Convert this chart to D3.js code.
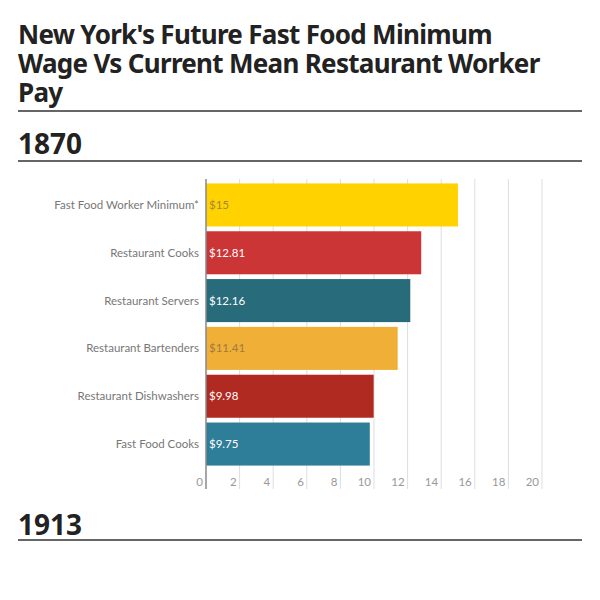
<!DOCTYPE html><html><head><meta charset="utf-8"><script src="https://cdn.jsdelivr.net/npm/d3@7"></script>
<style>body{margin:0;background:#fff}</style></head><body><svg id="c" width="600" height="600"></svg><script>
const categories=["Fast Food Worker Minimum*","Restaurant Cooks","Restaurant Servers","Restaurant Bartenders","Restaurant Dishwashers","Fast Food Cooks"];
const values=[15,12.81,12.16,11.41,9.98,9.75];
const valueLabels=["$15","$12.81","$12.16","$11.41","$9.98","$9.75"];
const colors=["#FFD200","#CC3535","#286B7A","#F0B037","#B02A21","#2E7D99"];
const labelColors=["#a08a40","#fff","#fff","#a07a40","#fff","#fff"];
const ticks=[0,2,4,6,8,10,12,14,16,18,20];
const svg=d3.select("#c");
const F="Lato, 'Open Sans', sans-serif";
["New York's Future Fast Food Minimum","Wage Vs Current Mean Restaurant Worker","Pay"].forEach((t,i)=>
 svg.append("text").attr("x",18).attr("y",44+i*29).attr("font-family","'Noto Sans', sans-serif").attr("font-weight","bold").attr("font-size",26).attr("fill","#222").attr("letter-spacing",-0.7).text(t));
[[111],[161],[540]].forEach(([y])=>svg.append("line").attr("x1",18).attr("x2",582).attr("y1",y).attr("y2",y).attr("stroke","#333").attr("stroke-width",1.5));
[["1870",154],["1913",535]].forEach(([t,y])=>svg.append("text").attr("x",18).attr("y",y).attr("font-family","'Noto Sans', sans-serif").attr("font-weight","bold").attr("font-size",28).attr("fill","#222").text(t));
const x=d3.scaleLinear().domain([0,20]).range([206,542]);
const y=d3.scaleBand().domain(categories).range([182,467]).paddingInner(0.1).paddingOuter(0.03);
svg.append("g").selectAll("line").data(ticks.slice(1)).join("line").attr("x1",d=>x(d)).attr("x2",d=>x(d)).attr("y1",179).attr("y2",489).attr("stroke","#ddd");
svg.append("g").selectAll("rect").data(values).join("rect").attr("x",x(0)).attr("y",(d,i)=>y(categories[i])).attr("width",d=>x(d)-x(0)).attr("height",y.bandwidth()).attr("fill",(d,i)=>colors[i]);
svg.append("line").attr("x1",x(0)).attr("x2",x(0)).attr("y1",179).attr("y2",489).attr("stroke","#888").attr("stroke-width",1.5);
svg.append("g").selectAll("text").data(valueLabels).join("text").attr("x",x(0)+3).attr("y",(d,i)=>y(categories[i])+y.bandwidth()/2+4).attr("font-family",F).attr("font-size",11.5).attr("fill",(d,i)=>labelColors[i]).text(d=>d);
svg.append("g").selectAll("text").data(categories).join("text").attr("x",x(0)-7).attr("y",d=>y(d)+y.bandwidth()/2+4).attr("text-anchor","end").attr("font-family",F).attr("font-size",11.5).attr("fill","#777").text(d=>d);
svg.append("g").selectAll("text").data(ticks).join("text").attr("x",d=>x(d)-3).attr("y",486).attr("text-anchor","end").attr("font-family",F).attr("font-size",11.5).attr("fill","#999").text(d=>d);
</script></body></html>
